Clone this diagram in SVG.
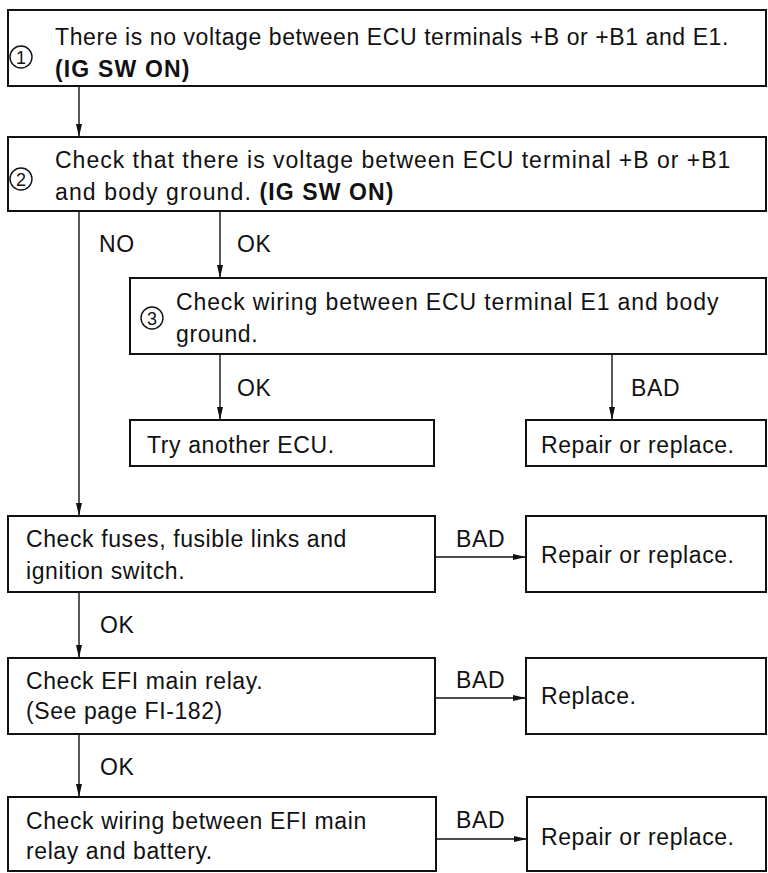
<svg xmlns="http://www.w3.org/2000/svg" width="768" height="873" viewBox="0 0 768 873">
<defs>
<marker id="ah" viewBox="0 0 13 6" refX="13" refY="3" markerWidth="13" markerHeight="6" markerUnits="userSpaceOnUse" orient="auto">
<path d="M0,0 L13,3 L0,6 Z" fill="#111"/>
</marker>
<style>
.box{fill:#fff;stroke:#111;stroke-width:2}
.t{font-family:"Liberation Sans",Arial,sans-serif;font-size:23px;letter-spacing:0.6px;fill:#111}
.b{font-weight:bold}
.c{fill:none;stroke:#111;stroke-width:1.4}
.num{font-family:"Liberation Sans",Arial,sans-serif;font-size:18px;fill:#111;text-anchor:middle}
.circ{fill:none;stroke:#111;stroke-width:1.4}
</style>
</defs>
<rect width="768" height="873" fill="#fff"/>
<g id="connectors">
<line class="c" x1="79" y1="86" x2="79" y2="137" marker-end="url(#ah)"/>
<line class="c" x1="79" y1="211" x2="79" y2="516" marker-end="url(#ah)"/>
<line class="c" x1="220" y1="211" x2="220" y2="278" marker-end="url(#ah)"/>
<line class="c" x1="220" y1="354" x2="220" y2="420" marker-end="url(#ah)"/>
<line class="c" x1="612" y1="354" x2="612" y2="420" marker-end="url(#ah)"/>
<line class="c" x1="435" y1="557" x2="526" y2="557" marker-end="url(#ah)"/>
<line class="c" x1="79" y1="592" x2="79" y2="658" marker-end="url(#ah)"/>
<line class="c" x1="435" y1="698" x2="526" y2="698" marker-end="url(#ah)"/>
<line class="c" x1="79" y1="734" x2="79" y2="797" marker-end="url(#ah)"/>
<line class="c" x1="436" y1="839" x2="527" y2="839" marker-end="url(#ah)"/>
<text class="t" x="99" y="252">NO</text>
<text class="t" x="237" y="252">OK</text>
<text class="t" x="237" y="396">OK</text>
<text class="t" x="631" y="396">BAD</text>
<text class="t" x="456" y="547">BAD</text>
<text class="t" x="100" y="633">OK</text>
<text class="t" x="456" y="688">BAD</text>
<text class="t" x="100" y="775">OK</text>
<text class="t" x="456" y="828">BAD</text>
</g>
<g id="n1">
<rect class="box" x="8" y="10" width="758" height="76"/>
<circle class="circ" cx="21" cy="57" r="11"/>
<text class="num" x="21" y="63.5">1</text>
<text class="t" x="55" y="45" textLength="674" lengthAdjust="spacing">There is no voltage between ECU terminals +B or +B1 and E1.</text>
<text class="t b" x="55" y="77" textLength="135" lengthAdjust="spacing">(IG SW ON)</text>
</g>
<g id="n2">
<rect class="box" x="8" y="137" width="758" height="74"/>
<circle class="circ" cx="21" cy="179" r="11"/>
<text class="num" x="21" y="185.5">2</text>
<text class="t" x="55" y="168" textLength="676" lengthAdjust="spacing">Check that there is voltage between ECU terminal +B or +B1</text>
<text class="t" x="55" y="200" textLength="339" lengthAdjust="spacing">and body ground. <tspan class="b">(IG SW ON)</tspan></text>
</g>
<g id="n3">
<rect class="box" x="130" y="278" width="636" height="76"/>
<circle class="circ" cx="152" cy="318" r="11"/>
<text class="num" x="152" y="324.5">3</text>
<text class="t" x="176" y="310" textLength="543" lengthAdjust="spacing">Check wiring between ECU terminal E1 and body</text>
<text class="t" x="176" y="342">ground.</text>
</g>
<g id="n4">
<rect class="box" x="130" y="420" width="304" height="46"/>
<text class="t" x="147" y="453">Try another ECU.</text>
</g>
<g id="n5">
<rect class="box" x="526" y="420" width="240" height="46"/>
<text class="t" x="541" y="453">Repair or replace.</text>
</g>
<g id="n6">
<rect class="box" x="8" y="516" width="427" height="76"/>
<text class="t" x="26" y="547">Check fuses, fusible links and</text>
<text class="t" x="26" y="579">ignition switch.</text>
</g>
<g id="n7">
<rect class="box" x="526" y="516" width="240" height="76"/>
<text class="t" x="541" y="563">Repair or replace.</text>
</g>
<g id="n8">
<rect class="box" x="8" y="658" width="427" height="76"/>
<text class="t" x="26" y="689">Check EFI main relay.</text>
<text class="t" x="26" y="719">(See page FI-182)</text>
</g>
<g id="n9">
<rect class="box" x="526" y="658" width="240" height="76"/>
<text class="t" x="541" y="704">Replace.</text>
</g>
<g id="n10">
<rect class="box" x="8" y="797" width="428" height="74"/>
<text class="t" x="26" y="829">Check wiring between EFI main</text>
<text class="t" x="26" y="859">relay and battery.</text>
</g>
<g id="n11">
<rect class="box" x="527" y="797" width="239" height="74"/>
<text class="t" x="541" y="845">Repair or replace.</text>
</g>
</svg>
